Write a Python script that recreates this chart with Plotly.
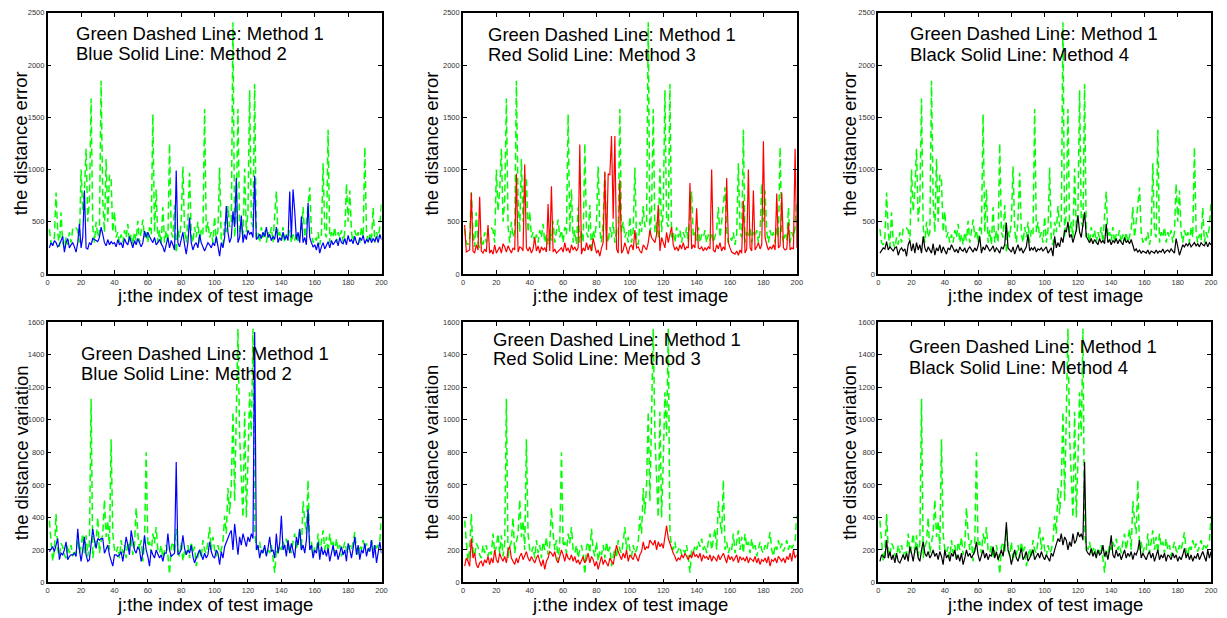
import plotly.graph_objects as go

# ---------------- data ----------------
x_ticks = [0, 20, 40, 60, 80, 100, 120, 140, 160, 180, 200]
err_ticks = [0, 500, 1000, 1500, 2000, 2500]
var_ticks = [0, 200, 400, 600, 800, 1000, 1200, 1400, 1600]

# distance error, Method 1 (green dashed)
err_m1 = [
    430, 300, 280, 350, 780, 400, 260, 590, 300, 250,
    350, 280, 400, 300, 440, 430, 440, 420, 300, 1000,
    600, 800, 1200, 500, 700, 1680, 450, 300, 500, 350,
    400, 1850, 700, 400, 1100, 500, 950, 900, 400, 600,
    350, 400, 300, 380, 300, 420, 350, 480, 300, 380,
    280, 400, 320, 510, 300, 400, 520, 350, 420, 300,
    450, 380, 1530, 400, 810, 300, 420, 280, 640, 300,
    420, 300, 1250, 400, 350, 660, 200, 420, 350, 500,
    1030, 420, 300, 520, 970, 380, 300, 450, 350, 500,
    300, 420, 380, 1580, 400, 500, 350, 400, 300, 550,
    300, 420, 1020, 300, 280, 500, 400, 650, 450, 480,
    2410, 350, 600, 1580, 400, 500, 350, 1010, 400, 600,
    1760, 500, 450, 1820, 350, 400, 300, 450, 350, 420,
    300, 400, 350, 450, 300, 560, 790, 350, 400, 320,
    450, 300, 380, 350, 420, 300, 380, 320, 400, 300,
    350, 420, 640, 350, 500, 700, 830, 400, 300, 350,
    320, 400, 280, 380, 1060, 400, 350, 1380, 300, 400,
    350, 450, 300, 400, 350, 420, 300, 400, 865, 500,
    800, 400, 300, 420, 350, 400, 300, 450, 350, 1215,
    400, 300, 380, 320, 635, 300, 400, 350, 450, 700,
]

# distance error, Method 2 (blue)
err_m2 = [
    250, 300, 270, 320, 300, 260, 280, 330, 360, 210,
    300, 340, 250, 280, 300, 260, 210, 300, 480, 250,
    350, 800, 250, 240, 300, 280, 340, 330, 320, 310,
    350, 450, 380, 300, 270, 330, 280, 310, 290, 300,
    260, 330, 280, 300, 250, 340, 300, 280, 360, 300,
    250, 320, 280, 340, 300, 260, 300, 410, 350, 400,
    360, 330, 300, 350, 280, 300, 330, 290, 260, 210,
    300, 350, 250, 320, 280, 230, 990, 300, 260, 330,
    400, 280, 190, 300, 540, 300, 230, 280, 300, 250,
    380, 300, 260, 220, 260, 300, 280, 250, 300, 270,
    360, 280, 170, 300, 250, 350, 650, 400, 300, 350,
    600, 450, 920, 300, 350, 560, 300, 380, 330, 420,
    380, 400, 350, 940, 330, 350, 380, 340, 400, 360,
    450, 350, 380, 320, 360, 330, 450, 300, 350, 320,
    400, 330, 370, 320, 790, 350, 810, 600, 330, 400,
    300, 550, 300, 350, 280, 680, 350, 300, 260, 280,
    230, 300, 200, 260, 300, 240, 280, 310, 250, 320,
    280, 300, 330, 270, 350, 300, 290, 340, 280, 370,
    310, 330, 290, 360, 300, 280, 350, 320, 370, 290,
    330, 310, 350, 300, 340, 310, 360, 300, 380, 330,
]

# distance error, Method 3 (red)
err_m3 = [
    470, 210, 220, 230, 780, 220, 200, 280, 230, 740,
    220, 200, 240, 210, 470, 200, 230, 190, 280, 200,
    230, 260, 200, 290, 260, 210, 270, 230, 200, 250,
    230, 960, 210, 260, 250, 220, 1050, 250, 220, 260,
    200, 240, 350, 220, 270, 200, 260, 230, 250, 210,
    670, 220, 840, 210, 240, 200, 220, 230, 250, 210,
    300, 220, 250, 200, 280, 230, 260, 220, 250, 1240,
    190, 250, 220, 300, 230, 280, 220, 340, 250, 200,
    230, 170, 250, 300, 980, 230, 960, 950, 1320, 530,
    1320, 240, 200, 900, 200, 230, 300, 250, 190, 260,
    280, 230, 420, 250, 260, 220, 200, 280, 250, 230,
    300, 420, 350, 320, 300, 380, 660, 220, 350, 300,
    250, 400, 300, 380, 450, 280, 230, 260, 220, 280,
    240, 300, 230, 260, 250, 870, 240, 280, 250, 630,
    250, 240, 260, 220, 250, 230, 260, 240, 1000, 230,
    210, 280, 240, 300, 220, 260, 230, 920, 300, 250,
    210, 200, 190, 220, 180, 230, 200, 700, 200, 240,
    1000, 250, 220, 800, 230, 260, 300, 240, 280, 1270,
    350, 280, 230, 260, 240, 280, 230, 770, 250, 270,
    780, 250, 230, 240, 490, 230, 250, 240, 1200, 250,
]

# distance error, Method 4 (black)
err_m4 = [
    200, 230, 250, 240, 310, 230, 260, 240, 220, 250,
    260, 180, 230, 250, 220, 240, 170, 280, 320, 220,
    290, 200, 300, 230, 280, 200, 360, 250, 210, 260,
    230, 200, 290, 180, 250, 220, 280, 200, 260, 230,
    190, 250, 230, 280, 250, 210, 240, 200, 260, 230,
    220, 250, 200, 240, 260, 230, 210, 250, 220, 270,
    360, 200, 260, 230, 280, 250, 220, 240, 270, 210,
    250, 230, 200, 260, 240, 280, 490, 250, 230, 210,
    260, 190, 240, 280, 220, 250, 200, 230, 260, 380,
    220, 250, 230, 260, 210, 240, 230, 250, 220, 240,
    260, 200, 230, 250, 170, 360, 250, 300, 260, 350,
    300, 420, 400, 500, 350, 380, 300, 350, 420, 560,
    400, 350, 450, 590, 360, 330, 300, 340, 290, 330,
    310, 280, 340, 300, 320, 290, 480, 300, 330, 280,
    320, 300, 340, 290, 330, 310, 280, 350, 300, 320,
    290, 330, 280, 220, 240, 210, 230, 200, 220, 210,
    200, 230, 190, 220, 210, 200, 230, 200, 220, 210,
    240, 200, 220, 230, 210, 240, 220, 200, 340, 260,
    180, 230, 280, 260, 290, 270, 300, 260, 280, 300,
    270, 290, 260, 300, 280, 270, 310, 260, 300, 280,
]

# distance variation, Method 1 (green dashed)
var_m1 = [
    380, 250, 130, 200, 420, 200, 160, 240, 220, 170,
    150, 230, 180, 230, 160, 200, 170, 300, 180, 220,
    300, 180, 290, 160, 240, 1130, 150, 220, 250, 400,
    180, 250, 300, 510, 280, 380, 200, 880, 300, 200,
    180, 220, 150, 260, 180, 230, 150, 250, 200, 280,
    170, 230, 460, 300, 200, 260, 130, 250, 800, 220,
    250, 180, 300, 240, 340, 200, 180, 230, 150, 200,
    230, 170, 50, 220, 250, 180, 330, 200, 160, 250,
    130, 200, 170, 230, 150, 250, 180, 220, 100, 160,
    210, 150, 260, 200, 180, 250, 340, 200, 280, 200,
    160, 230, 180, 200, 250, 410, 300, 580, 420, 600,
    1050, 500, 1120, 1560, 900, 600, 400, 1050, 400, 750,
    1170, 900, 1560, 300, 220, 200, 250, 180, 200, 220,
    170, 200, 180, 230, 150, 60, 200, 180, 230, 200,
    250, 220, 270, 200, 230, 180, 250, 300, 200, 260,
    330, 200, 500, 380, 300, 630, 200, 250, 180, 220,
    200, 300, 180, 250, 320, 200, 280, 180, 300, 220,
    250, 180, 270, 200, 230, 160, 210, 250, 200, 180,
    230, 200, 250, 310, 200, 160, 230, 200, 260, 210,
    240, 190, 220, 260, 200, 240, 210, 230, 250, 410,
]

# distance variation, Method 2 (blue)
var_m2 = [
    190, 210, 220, 190, 230, 270, 140, 180, 170, 200,
    250, 140, 160, 170, 170, 180, 160, 330, 200, 130,
    200, 280, 170, 130, 140, 250, 330, 260, 210, 270,
    260, 270, 270, 180, 200, 230, 170, 140, 100, 170,
    170, 160, 170, 190, 130, 200, 280, 230, 170, 320,
    250, 200, 180, 220, 200, 130, 180, 290, 200, 160,
    100, 200, 170, 150, 200, 180, 150, 170, 130, 180,
    180, 300, 200, 160, 170, 180, 740, 170, 180, 200,
    290, 210, 170, 200, 180, 230, 160, 120, 150, 170,
    200, 170, 140, 180, 150, 170, 250, 190, 160, 150,
    200, 180, 110, 190, 150, 220, 250, 270, 300, 320,
    200, 360, 250, 170, 280, 230, 300, 250, 220, 280,
    250, 300, 270, 1540, 200, 230, 150, 200, 180, 230,
    160, 210, 280, 190, 200, 150, 300, 180, 240, 410,
    200, 230, 160, 260, 180, 240, 200, 150, 280, 230,
    330, 200, 230, 180, 260, 450, 200, 230, 150, 200,
    180, 250, 140, 220, 170, 200, 160, 210, 130, 190,
    230, 160, 200, 140, 190, 220, 170, 200, 130, 240,
    200, 150, 210, 280, 170, 230, 140, 200, 180, 240,
    160, 210, 190, 260, 150, 230, 120, 200, 250, 180,
]

# distance variation, Method 3 (red)
var_m3 = [
    100, 150, 130, 100, 270, 150, 180, 110, 90, 120,
    130, 100, 140, 120, 160, 110, 150, 120, 200, 140,
    120, 180, 150, 130, 160, 120, 200, 220, 150, 130,
    110, 150, 120, 160, 180, 140, 170, 190, 150, 130,
    160, 140, 120, 150, 170, 130, 100, 140, 80, 130,
    150, 190, 180, 160, 190, 140, 120, 160, 200, 170,
    130, 180, 150, 140, 170, 130, 160, 120, 140, 110,
    130, 160, 120, 140, 180, 120, 160, 140, 100, 130,
    80, 130, 160, 110, 140, 120, 100, 150, 130, 110,
    170, 230, 190, 160, 140, 180, 150, 200, 130, 170,
    150, 140, 180, 160, 130, 170, 190, 250, 200, 220,
    210, 260, 240, 230, 260, 200, 250, 220, 240, 210,
    280, 350, 270, 240, 200, 180, 160, 130, 150, 140,
    170, 150, 180, 160, 140, 170, 150, 190, 160, 170,
    150, 180, 130, 170, 150, 160, 140, 170, 130, 160,
    150, 130, 170, 140, 160, 180, 150, 120, 170, 140,
    160, 130, 150, 170, 120, 160, 140, 150, 130, 160,
    120, 150, 140, 130, 160, 120, 150, 110, 140, 130,
    150, 120, 160, 100, 140, 130, 150, 120, 160, 140,
    130, 150, 120, 160, 140, 180, 130, 200, 150, 170,
]

# distance variation, Method 4 (black)
var_m4 = [
    130, 170, 160, 150, 260, 150, 190, 140, 170, 120,
    180, 130, 120, 150, 170, 140, 180, 130, 220, 180,
    130, 200, 220, 150, 130, 200, 250, 180, 160, 190,
    150, 170, 200, 160, 180, 140, 190, 160, 110, 200,
    150, 170, 130, 180, 160, 200, 140, 170, 130, 180,
    110, 150, 200, 160, 180, 150, 170, 190, 250, 170,
    130, 160, 200, 150, 180, 140, 170, 160, 220, 150,
    190, 140, 170, 200, 160, 230, 370, 200, 170, 110,
    160, 200, 150, 130, 170, 210, 140, 160, 190, 130,
    150, 170, 200, 140, 160, 180, 150, 190, 160, 140,
    170, 150, 130, 180, 160, 200, 230, 270, 250, 300,
    230, 280, 260, 200, 250, 220, 300, 240, 260, 310,
    280, 300, 260, 740, 200, 180, 170, 210, 160, 190,
    150, 200, 170, 180, 230, 160, 190, 140, 200, 290,
    170, 150, 200, 160, 180, 140, 170, 200, 150, 180,
    160, 190, 140, 180, 170, 200, 260, 150, 180, 160,
    140, 170, 190, 150, 180, 130, 160, 200, 140, 170,
    150, 180, 130, 170, 160, 140, 180, 150, 170, 130,
    160, 140, 170, 210, 150, 180, 140, 170, 130, 160,
    150, 180, 140, 170, 190, 160, 130, 200, 150, 190,
]

# ---------------- layout helpers ----------------
W, H = 1227, 618
FONT = "Liberation Sans, Arial, Helvetica, sans-serif"


def px(x):
    return x / W


def py(y):
    return 1 - y / H


col_px = [(46, 382), (464, 800), (882, 1217)]
row_px = [(9, 274), (323, 587)]

panels = [
    (0, 0, err_m2, "#0000ff", "Blue Solid Line: Method 2", "the distance error", err_m1, err_ticks),
    (0, 1, err_m3, "#ff0000", "Red Solid Line: Method 3", "the distance error", err_m1, err_ticks),
    (0, 2, err_m4, "#000000", "Black Solid Line: Method 4", "the distance error", err_m1, err_ticks),
    (1, 0, var_m2, "#0000ff", "Blue Solid Line: Method 2", "the distance variation", var_m1, var_ticks),
    (1, 1, var_m3, "#ff0000", "Red Solid Line: Method 3", "the distance variation", var_m1, var_ticks),
    (1, 2, var_m4, "#000000", "Black Solid Line: Method 4", "the distance variation", var_m1, var_ticks),
]

# legend text positions (left x, line1 y, line2 y)
legend_pos = {
    (0, 0): (72, 30, 50),
    (0, 1): (487, 31, 51),
    (0, 2): (912, 30, 51),
    (1, 0): (78, 355, 375),
    (1, 1): (492, 340, 360),
    (1, 2): (911, 348, 369),
}
ytitle_x = {0: 19, 1: 432, 2: 853}

fig = go.Figure()
annotations = []

for k, (r, c, other, color, label, ytitle, m1, yticks) in enumerate(panels):
    n = k + 1
    xa = "x" if n == 1 else f"x{n}"
    ya = "y" if n == 1 else f"y{n}"
    xs = list(range(1, len(m1) + 1))
    fig.add_trace(go.Scatter(
        x=xs, y=m1, mode="lines", xaxis=xa, yaxis=ya,
        line=dict(color="#00ff00", width=1.5, dash="7px,4px"),
        showlegend=False, hoverinfo="skip"))
    xs2 = list(range(1, len(other) + 1))
    fig.add_trace(go.Scatter(
        x=xs2, y=other, mode="lines", xaxis=xa, yaxis=ya,
        line=dict(color=color, width=1.2),
        showlegend=False, hoverinfo="skip"))

    x0, x1 = col_px[c]
    y0, y1 = row_px[r]
    axis_common = dict(
        showgrid=False, zeroline=False, showline=True, linecolor="black",
        linewidth=1.5, mirror="ticks", ticks="inside", ticklen=4,
        tickwidth=1, tickcolor="black",
        tickfont=dict(family=FONT, size=7.5, color="#333333"),
    )
    fig.layout[f"xaxis{'' if n == 1 else n}"] = dict(
        domain=[px(x0), px(x1)], anchor=ya, range=[0, 200],
        tickvals=x_ticks, ticktext=[str(v) for v in x_ticks], **axis_common)
    fig.layout[f"yaxis{'' if n == 1 else n}"] = dict(
        domain=[py(y1), py(y0)], anchor=xa, range=[yticks[0], yticks[-1]],
        tickvals=yticks, ticktext=[str(v) for v in yticks], **axis_common)

    annotations.append(dict(
        text="j:the index of test image", xref="paper", yref="paper",
        x=px((x0 + x1) / 2), y=py(y1 + 22), xanchor="center", yanchor="middle",
        showarrow=False, font=dict(family=FONT, size=18.5, color="black")))
    annotations.append(dict(
        text=ytitle, xref="paper", yref="paper", textangle=-90,
        x=px(ytitle_x[c]), y=py((y0 + y1) / 2), xanchor="center", yanchor="middle",
        showarrow=False, font=dict(family=FONT, size=18.5, color="black")))

    lx, l1, l2 = legend_pos[(r, c)]
    annotations.append(dict(
        text="Green Dashed Line: Method 1", xref="paper", yref="paper",
        x=px(lx), y=py(l1), xanchor="left", yanchor="middle", showarrow=False,
        font=dict(family=FONT, size=18.5, color="black")))
    annotations.append(dict(
        text=label, xref="paper", yref="paper",
        x=px(lx), y=py(l2), xanchor="left", yanchor="middle", showarrow=False,
        font=dict(family=FONT, size=18.5, color="black")))

fig.update_layout(
    width=W, height=H, margin=dict(l=0, r=0, t=0, b=0),
    paper_bgcolor="white", plot_bgcolor="white",
    showlegend=False, annotations=annotations,
    font=dict(family=FONT), hovermode=False,
)

# pin the graph to the page's top-left corner (no default body margin)
pin_js = (
    "document.body.style.margin='0';"
    "var gd=document.getElementById('{plot_id}');"
    "gd.style.position='absolute';gd.style.left='0px';gd.style.top='0px';"
)
fig.write_html("out.html", post_script=pin_js, config={"displayModeBar": False})
